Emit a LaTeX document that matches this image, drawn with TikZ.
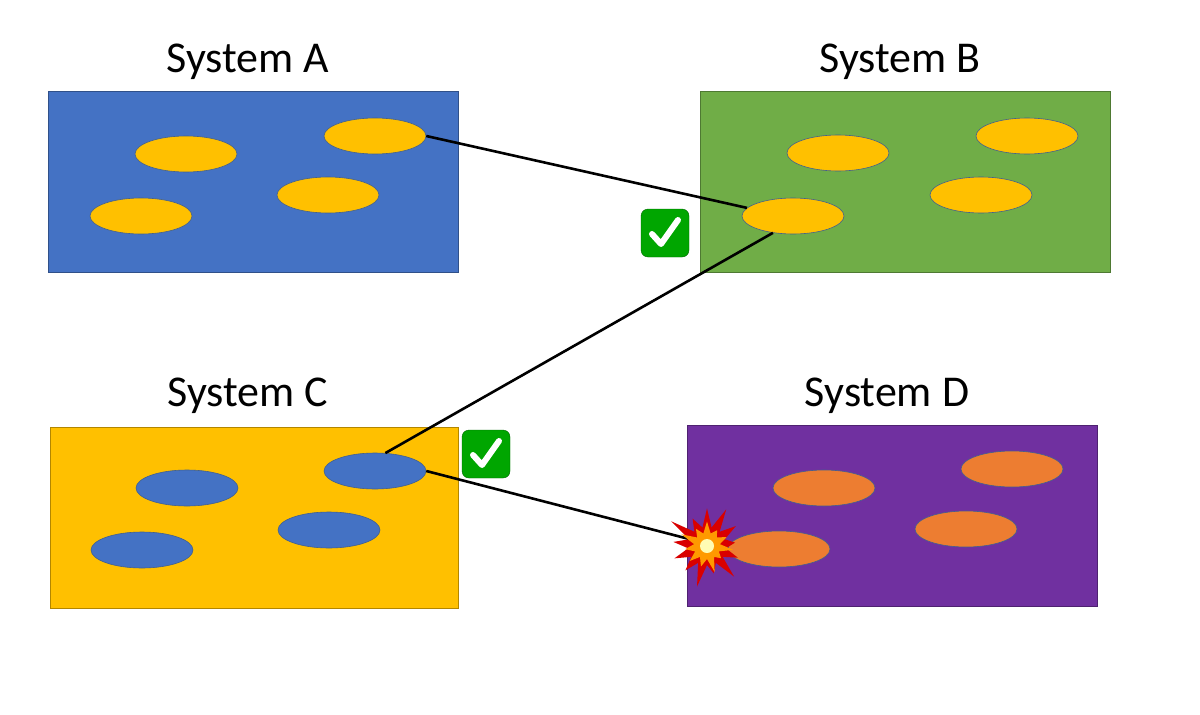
\documentclass[tikz,border=0pt]{standalone}
\usepackage{fontspec}
\setmainfont{Carlito}
\usetikzlibrary{shapes.geometric,shapes.symbols}
\begin{document}
\begin{tikzpicture}[x=1pt,y=-1pt,
 sys/.style={draw=#1!70!black,fill=#1,line width=0.6pt},
 ell/.style={ellipse,draw=#1,line width=0.6pt,minimum width=102pt,minimum height=36pt,inner sep=0pt},
 ttl/.style={font=\fontsize{44}{48}\selectfont},
 conn/.style={line width=2.6pt,black},
 chk/.style={rounded corners=7pt,fill=green!65!black,draw=green!40!black,minimum size=48pt,inner sep=0pt},
 tick/.style={draw=white,line width=6pt,line cap=round,line join=round}]
\useasboundingbox (0,0) rectangle (1200,715);
\definecolor{cA}{HTML}{4472C4}\definecolor{cB}{HTML}{70AD47}
\definecolor{cC}{HTML}{FFC000}\definecolor{cD}{HTML}{7030A0}
\definecolor{cO}{HTML}{ED7D31}\definecolor{eb}{HTML}{41608F}
\fill[sys=cA] (48,91) rectangle (458,272);
\fill[sys=cB] (700,91) rectangle (1110,272);
\fill[sys=cC] (50,427) rectangle (458,608);
\fill[sys=cD] (687,425) rectangle (1097,606);
\node[ttl] (tA) at (248,62) {System A};
\node[ttl] (tB) at (900,62) {System B};
\node[ttl] (tC) at (248,396) {System C};
\node[ttl] (tD) at (887,396) {System D};
\foreach \n/\x/\y in {a1/186/154,a2/375/136,a3/328/195,a4/141/216,b1/838/153,b2/1027/136,b3/981/195,b4/793/216}
  \node[ell=eb,fill=cC] (\n) at (\x,\y) {};
\foreach \n/\x/\y in {c1/187/488,c2/375/471,c3/329/530,c4/142/550}
  \node[ell=eb,fill=cA] (\n) at (\x,\y) {};
\foreach \n/\x/\y in {d1/824/488,d2/1012/469,d3/966/529,d4/779/549}
  \node[ell=eb,fill=cO] (\n) at (\x,\y) {};
\draw[conn] (a2.east) -- (b4.170);
\draw[conn] (c2.60) -- (b4.-140);
\draw[conn] (c2.east) -- (d4.west);
\foreach \k/\x/\y in {k1/665/233,k2/486/454}{
  \node[chk] (\k) at (\x,\y) {};
  \draw[tick] ([shift={(-13,1)}]\k.center) -- ([shift={(-4,11)}]\k.center) -- ([shift={(13,-13)}]\k.center);
}
\node[starburst,starburst points=13,starburst point height=26pt,fill=red!85!black,minimum width=90pt,minimum height=90pt,inner sep=0pt] (x1) at (707,546) {};
\node[starburst,starburst points=11,starburst point height=16pt,fill=orange!80!yellow,minimum width=58pt,minimum height=58pt,inner sep=0pt] (x2) at (707,546) {};
\node[circle,fill=yellow!30,minimum size=14pt,inner sep=0pt] (x3) at (707,546) {};
\end{tikzpicture}
\end{document}
